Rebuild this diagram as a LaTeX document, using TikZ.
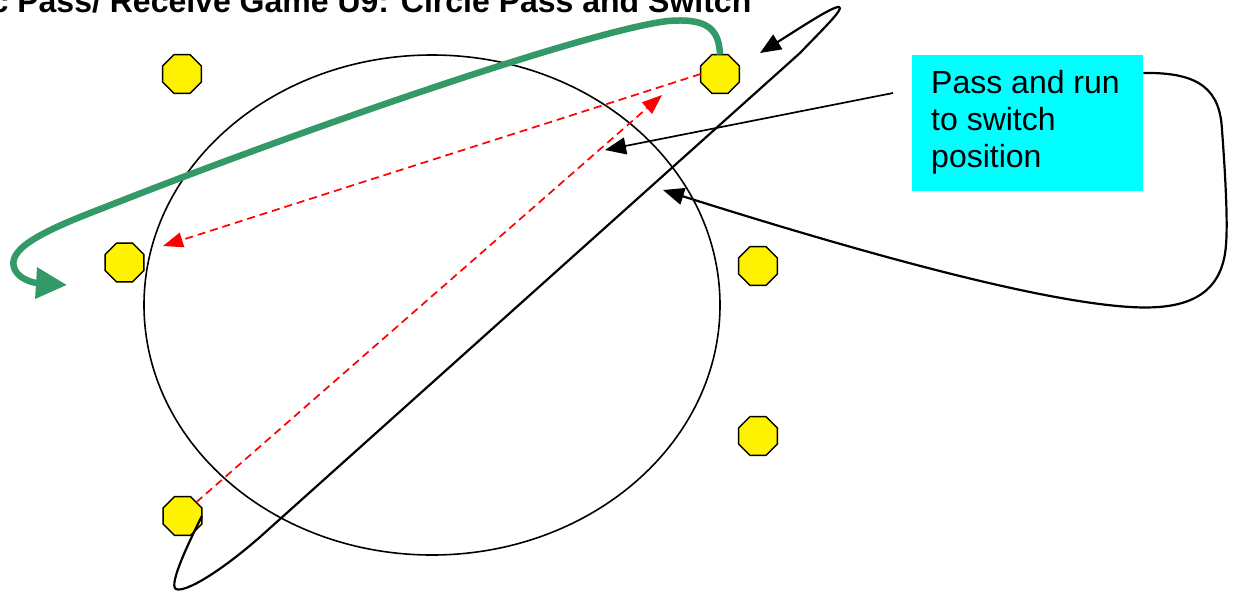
\documentclass[tikz,border=0pt]{standalone}
\usepackage{fontspec}
\setmainfont{Liberation Sans}
\usetikzlibrary{arrows.meta,shapes.geometric,calc}
\definecolor{rungreen}{RGB}{51,153,102}
\definecolor{notecyan}{RGB}{0,255,255}

\begin{document}
\begin{tikzpicture}[x=1pt,y=-1pt,
  player/.style={regular polygon, regular polygon sides=8, minimum size=42pt,
    inner sep=0pt, outer sep=0pt, draw=black, line width=1.4pt, fill=yellow},
  passline/.style={draw=red, line width=1.7pt, dash pattern=on 8pt off 5pt,
    -{Triangle[length=20pt,width=15pt]}},
  runline/.style={draw=black, line width=2.2pt, -{Triangle[length=21pt,width=17pt]}},
  pointer/.style={draw=black, line width=1.7pt, -{Triangle[length=21pt,width=17pt]}},
  dribble/.style={draw=rungreen, line width=6.5pt, -{Triangle[length=31pt,width=30pt]}},
  notetext/.style={anchor=base west, inner sep=0pt, font=\fontsize{32}{37}\selectfont},
]
\useasboundingbox (0,0) rectangle (1237,592);
\clip (0,0) rectangle (1237,592);

% title
\node[anchor=base west, inner sep=0pt, font=\bfseries\fontsize{32}{38}\selectfont]
  (title) at (-9.5,12) {c Pass/ Receive Game U9: Circle Pass and Switch};

% the circle the players stand around
\node[draw=black, line width=1.6pt, ellipse, minimum width=576pt, minimum height=500pt,
  inner sep=0pt] (ring) at (432,305) {};

% players
\node[player] (p1) at (182,74) {};
\node[player] (p2) at (720,74) {};
\node[player] (p3) at (124.5,262.5) {};
\node[player] (p4) at (758,266) {};
\node[player] (p5) at (758,436) {};
\node[player] (p6) at (182.5,516) {};

% note box
\node[fill=notecyan, minimum width=231pt, minimum height=136pt, inner sep=0pt,
  anchor=north west] (note) at (912,55) {};
\node[notetext] (n1) at (931,93) {Pass and run};
\node[notetext] (n2) at (931,130) {to switch};
\node[notetext] (n3) at (931,167) {position};

% free ends of the connectors
\coordinate (passA) at (163,246);
\coordinate (passB) at (662,95);
\coordinate (hint) at (893,93);
\coordinate (hintA) at (605,150);
\coordinate (hintB) at (663,190);
\coordinate (runEnd) at (760,53);
\coordinate (dribbleEnd) at (67,285);

% passes
\draw[passline] (p2.west) -- (passA);
\draw[passline] (p6.north east) -- (passB);

% run from the bottom player across the circle
\draw[runline] (p6.east) .. controls (190,540) and (168,585) .. (176,589)
  .. controls (185,593) and (220,572) .. (260,537) -- (800,53)
  .. controls (822,30) and (845,8) .. (839,7)
  .. controls (833,6) and (800,28) .. (runEnd);

% run of the top player around the outside
\draw[dribble] (p2.north) .. controls (719,28) and (706,18) .. (668,21)
  .. controls (590,30) and (300,130) .. (103,208)
  .. controls (40,232) and (5,250) .. (15,270)
  .. controls (20,280) and (35,283) .. (dribbleEnd);

% pointers from the note
\draw[pointer] (hint) -- (hintA);
\draw[runline] ($(note.north east)+(0,18)$) .. controls (1200,72) and (1220,90) .. (1222,130)
  .. controls (1225,170) and (1228,220) .. (1226,245)
  .. controls (1222,300) and (1180,310) .. (1130,307)
  .. controls (1050,302) and (900,265) .. (hintB);
\end{tikzpicture}
\end{document}
